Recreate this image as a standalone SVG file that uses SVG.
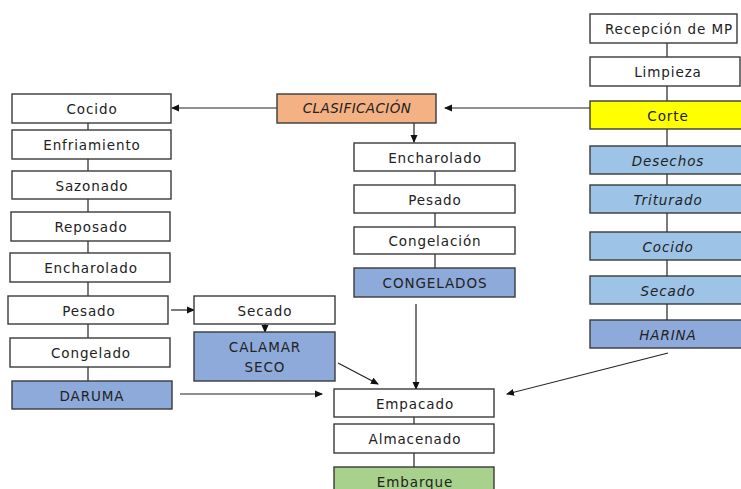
<svg xmlns="http://www.w3.org/2000/svg" width="741" height="489" viewBox="0 0 741 489">
<defs>
<marker id="ah" markerWidth="8" markerHeight="8" refX="7" refY="4" orient="auto" markerUnits="userSpaceOnUse"><path d="M0,0.5 L8,4 L0,7.5 Z" fill="#111"/></marker>
<style>
.b rect{stroke:#3a3a3a;stroke-width:1.4}
.w{fill:#fff}.y{fill:#ffff00}.lb{fill:#9dc3e6}.db{fill:#8eaadb}.o{fill:#f4b183}.g{fill:#a9d18e}
text{font-family:"DejaVu Sans","Liberation Sans",sans-serif;font-size:13.5px;letter-spacing:0.9px;fill:#222;text-anchor:middle}
.i{font-style:italic}
.s{font-size:13.5px;letter-spacing:0.4px}
.c line,.c path{stroke:#222;stroke-width:1.2;fill:none}
</style>
</defs>
<rect width="741" height="489" fill="#fff"/>
<g class="c" id="connectors">
<line x1="667" y1="43" x2="667" y2="57"/>
<line x1="667" y1="86" x2="667" y2="101"/>
<line x1="667" y1="129" x2="667" y2="146"/>
<line x1="667" y1="174" x2="667" y2="185"/>
<line x1="667" y1="213" x2="667" y2="232"/>
<line x1="667" y1="260" x2="667" y2="276"/>
<line x1="667" y1="304" x2="667" y2="320"/>
<line x1="590" y1="108" x2="445" y2="108" marker-end="url(#ah)"/>
<line x1="277" y1="108" x2="172" y2="108" marker-end="url(#ah)"/>
<line x1="414" y1="123" x2="414" y2="142" marker-end="url(#ah)"/>
<line x1="435" y1="171" x2="435" y2="185"/>
<line x1="435" y1="213" x2="435" y2="227"/>
<line x1="435" y1="254" x2="435" y2="268"/>
<line x1="88" y1="123" x2="88" y2="130"/>
<line x1="88" y1="159" x2="88" y2="171"/>
<line x1="88" y1="199" x2="88" y2="212"/>
<line x1="88" y1="241" x2="88" y2="253"/>
<line x1="88" y1="282" x2="88" y2="296"/>
<line x1="88" y1="324" x2="88" y2="338"/>
<line x1="88" y1="367" x2="88" y2="381"/>
<line x1="171" y1="310" x2="194" y2="310" marker-end="url(#ah)"/>
<line x1="265" y1="324" x2="265" y2="332" marker-end="url(#ah)"/>
<line x1="180" y1="394" x2="322" y2="394" marker-end="url(#ah)"/>
<line x1="338" y1="363" x2="378" y2="384" marker-end="url(#ah)"/>
<line x1="416" y1="304" x2="416" y2="389" marker-end="url(#ah)"/>
<line x1="668" y1="353" x2="507" y2="394" marker-end="url(#ah)"/>
<line x1="414" y1="417" x2="414" y2="424"/>
<line x1="414" y1="453" x2="414" y2="467"/>
</g>
<g class="b">
<g id="recepcion"><rect class="w" x="590" y="14" width="147" height="29"/><text x="669" y="34">Recepción de MP</text></g>
<g id="limpieza"><rect class="w" x="590" y="57" width="150" height="29"/><text x="668" y="77">Limpieza</text></g>
<g id="corte"><rect class="y" x="590" y="101" width="155" height="28"/><text x="668" y="121">Corte</text></g>
<g id="desechos"><rect class="lb" x="590" y="146" width="155" height="28"/><text class="i" x="668" y="166">Desechos</text></g>
<g id="triturado"><rect class="lb" x="590" y="185" width="155" height="28"/><text class="i" x="668" y="205">Triturado</text></g>
<g id="cocido-r"><rect class="lb" x="590" y="232" width="155" height="28"/><text class="i" x="668" y="252">Cocido</text></g>
<g id="secado-r"><rect class="lb" x="590" y="276" width="155" height="28"/><text class="i" x="668" y="296">Secado</text></g>
<g id="harina"><rect class="db" x="590" y="320" width="155" height="28"/><text class="i" x="668" y="340">HARINA</text></g>
<g id="clasificacion"><rect class="o" x="277" y="94" width="159" height="29"/><text class="i s" x="357" y="113">CLASIFICACIÓN</text></g>
<g id="encharolado-m"><rect class="w" x="354" y="143" width="161" height="28"/><text x="435" y="163">Encharolado</text></g>
<g id="pesado-m"><rect class="w" x="354" y="185" width="161" height="28"/><text x="435" y="205">Pesado</text></g>
<g id="congelacion"><rect class="w" x="354" y="227" width="161" height="27"/><text x="435" y="246">Congelación</text></g>
<g id="congelados"><rect class="db" x="354" y="268" width="161" height="29"/><text x="435" y="288">CONGELADOS</text></g>
<g id="cocido-l"><rect class="w" x="12" y="94" width="159" height="29"/><text x="92" y="114">Cocido</text></g>
<g id="enfriamiento"><rect class="w" x="12" y="130" width="159" height="29"/><text x="92" y="150">Enfriamiento</text></g>
<g id="sazonado"><rect class="w" x="12" y="171" width="159" height="28"/><text x="92" y="191">Sazonado</text></g>
<g id="reposado"><rect class="w" x="11" y="212" width="159" height="29"/><text x="91" y="232">Reposado</text></g>
<g id="encharolado-l"><rect class="w" x="10" y="253" width="160" height="29"/><text x="91" y="273">Encharolado</text></g>
<g id="pesado-l"><rect class="w" x="8" y="296" width="160" height="28"/><text x="89" y="316">Pesado</text></g>
<g id="congelado"><rect class="w" x="10" y="338" width="160" height="29"/><text x="91" y="358">Congelado</text></g>
<g id="daruma"><rect class="db" x="12" y="381" width="160" height="28"/><text x="92" y="401">DARUMA</text></g>
<g id="secado-l"><rect class="w" x="194" y="296" width="141" height="28"/><text x="265" y="316">Secado</text></g>
<g id="calamar"><rect class="db" x="194" y="332" width="141" height="49"/><text x="265" y="352">CALAMAR</text><text x="265" y="372">SECO</text></g>
<g id="empacado"><rect class="w" x="334" y="389" width="160" height="28"/><text x="415" y="409">Empacado</text></g>
<g id="almacenado"><rect class="w" x="334" y="424" width="160" height="29"/><text x="415" y="444">Almacenado</text></g>
<g id="embarque"><rect class="g" x="334" y="467" width="160" height="30"/><text x="415" y="487">Embarque</text></g>
</g>
</svg>
